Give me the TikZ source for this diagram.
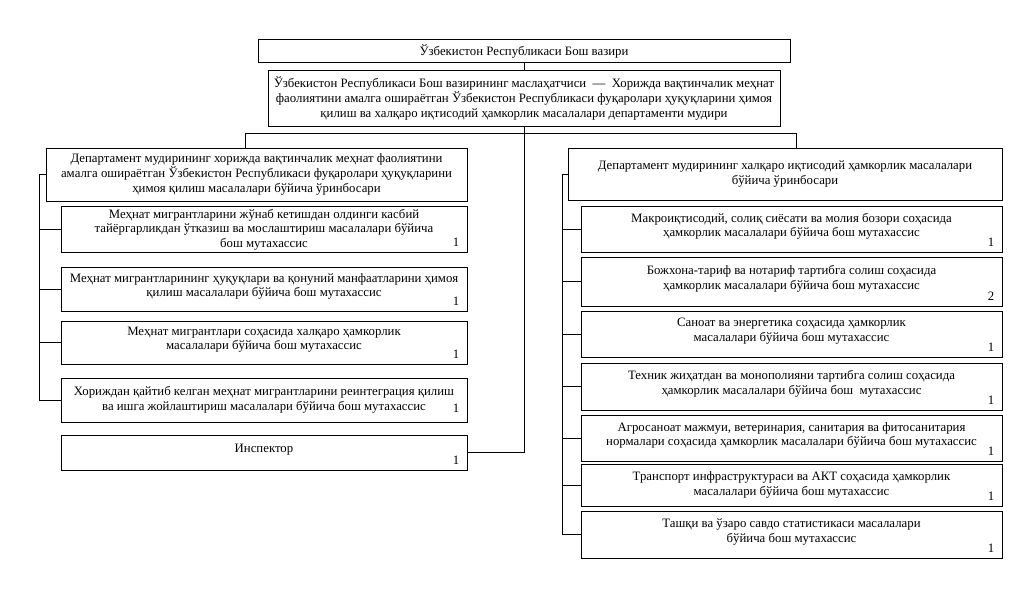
\documentclass[tikz,border=0pt]{standalone}
\usepackage{fontspec}
\setmainfont{Liberation Serif}
\usetikzlibrary{positioning}

\begin{document}
\begin{tikzpicture}[
    x=1pt, y=-1pt,
    every node/.style={font=\fontsize{12.8}{14.6}\selectfont},
    box/.style={draw, line width=0.9pt, align=center, inner sep=2pt},
    sub/.style={box, execute at end node={\rule[-8pt]{0pt}{0pt}}},
    line/.style={draw, line width=0.9pt},
    num/.style={anchor=south east, inner sep=0pt, xshift=-8pt, yshift=6pt}
]
    \useasboundingbox (0,0) rectangle (1020,592);

    % Top of the chart
    \node[box, minimum width=532, minimum height=23] (pm) at (524,51) {Ўзбекистон Республикаси Бош вазири};
    \node[box, minimum width=512, minimum height=56] (dir) at (524,98.5) {Ўзбекистон Республикаси Бош вазирининг маслаҳатчиси \ — \ Хорижда вақтинчалик меҳнат\\ фаолиятини амалга ошираётган Ўзбекистон Республикаси фуқаролари ҳуқуқларини ҳимоя\\ қилиш ва халқаро иқтисодий ҳамкорлик масалалари департаменти мудири};

    % Left branch
    \node[box, minimum width=421, minimum height=53] (ldep) at (256.5,174.5) {Департамент мудирининг хорижда вақтинчалик меҳнат фаолиятини\\ амалга ошираётган Ўзбекистон Республикаси фуқаролари ҳуқуқларини\\ ҳимоя қилиш масалалари бўйича ўринбосари};
    \node[box, minimum width=406, minimum height=43, label={[num]south east:1}] (l1) at (264,229.5) {Меҳнат мигрантларини жўнаб кетишдан олдинги касбий\\ тайёргарликдан ўтказиш ва мослаштириш масалалари бўйича\\ бош мутахассис};
    \node[sub, minimum width=406, minimum height=44, label={[num]south east:1}] (l2) at (264,289) {Меҳнат мигрантларининг ҳуқуқлари ва қонуний манфаатларини ҳимоя\\ қилиш масалалари бўйича бош мутахассис};
    \node[sub, minimum width=406, minimum height=43, label={[num]south east:1}] (l3) at (264,342.5) {Меҳнат мигрантлари соҳасида халқаро ҳамкорлик\\ масалалари бўйича бош мутахассис};
    \node[box, minimum width=406, minimum height=44, label={[num, yshift=4pt]south east:1}] (l4) at (264,400) {Хориждан қайтиб келган меҳнат мигрантларини реинтеграция қилиш\\ ва ишга жойлаштириш масалалари бўйича бош мутахассис};
    \node[sub, minimum width=406, minimum height=35, label={[num]south east:1}] (insp) at (264,452.5) {Инспектор};

    % Right branch
    \node[box, minimum width=434, minimum height=52] (rdep) at (785,174) {Департамент мудирининг халқаро иқтисодий ҳамкорлик масалалари\\ бўйича ўринбосари};
    \node[sub, minimum width=421, minimum height=46, label={[num]south east:1}] (r1) at (791.5,229) {Макроиқтисодий, солиқ сиёсати ва молия бозори соҳасида\\ ҳамкорлик масалалари бўйича бош мутахассис};
    \node[sub, minimum width=421, minimum height=49, label={[num]south east:2}] (r2) at (791.5,281.5) {Божхона-тариф ва нотариф тартибга солиш соҳасида\\ ҳамкорлик масалалари бўйича бош мутахассис};
    \node[sub, minimum width=421, minimum height=46, label={[num]south east:1}] (r3) at (791.5,334) {Саноат ва энергетика соҳасида ҳамкорлик\\ масалалари бўйича бош мутахассис};
    \node[sub, minimum width=421, minimum height=47, label={[num]south east:1}] (r4) at (791.5,386.5) {Техник жиҳатдан ва монополияни тартибга солиш соҳасида\\ ҳамкорлик масалалари бўйича бош \ мутахассис};
    \node[sub, minimum width=421, minimum height=46, label={[num]south east:1}] (r5) at (791.5,438) {Агросаноат мажмуи, ветеринария, санитария ва фитосанитария\\ нормалари соҳасида ҳамкорлик масалалари бўйича бош мутахассис};
    \node[box, minimum width=421, minimum height=42, label={[num]south east:1}] (r6) at (791.5,485) {Транспорт инфраструктураси ва АКТ соҳасида ҳамкорлик\\ масалалари бўйича бош мутахассис};
    \node[sub, minimum width=421, minimum height=47, label={[num]south east:1}] (r7) at (791.5,534.5) {Ташқи ва ўзаро савдо статистикаси масалалари\\ бўйича бош мутахассис};

    % Connectors
    \coordinate (ldrop) at (245,133);
    \coordinate (rdrop) at (796,133);
    \coordinate (lbus) at (39,0);
    \coordinate (rbus) at (562,0);
    \draw[line] (pm) -- (dir);
    \draw[line] (ldrop) -- (rdrop);
    \draw[line] (ldrop) -- (ldrop |- ldep.north);
    \draw[line] (rdrop) -- (rdrop |- rdep.north);
    \draw[line] (dir.south) |- (insp.east);

    \draw[line] (ldep.west) -- (ldep.west -| lbus) -- (lbus |- l4.west) -- (l4.west);
    \foreach \b in {l1,l2,l3}
        \draw[line] (\b.west) -- (\b.west -| lbus);

    \draw[line] (rdep.west) -- (rdep.west -| rbus) -- (rbus |- r7.west) -- (r7.west);
    \foreach \b in {r1,r2,r3,r4,r5,r6}
        \draw[line] (\b.west) -- (\b.west -| rbus);
\end{tikzpicture}
\end{document}
